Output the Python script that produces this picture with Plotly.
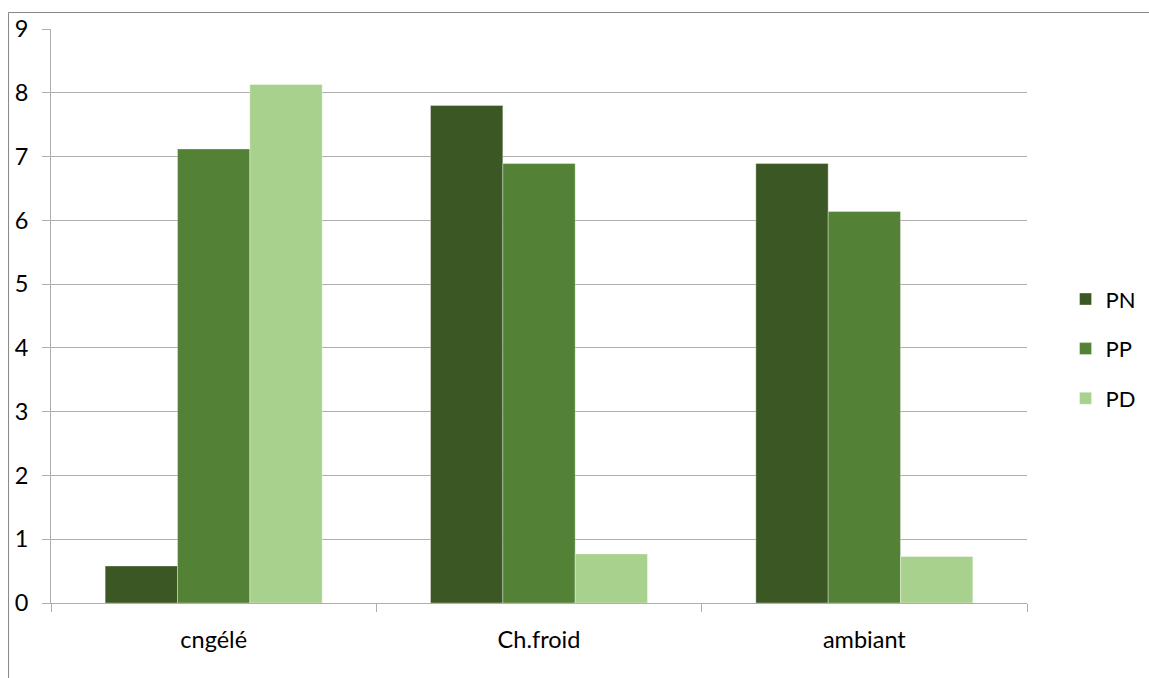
import plotly.graph_objects as go

categories = ["cngélé", "Ch.froid", "ambiant"]
pn_values = [0.58, 7.80, 6.89]
pp_values = [7.12, 6.89, 6.14]
pd_values = [8.13, 0.77, 0.73]
series_names = ["PN", "PP", "PD"]
series_colors = ["#3B5723", "#538135", "#A9D18E"]
y_ticks = list(range(0, 10))

FONT = "Lato"
GRID = "#ADADAD"

fig = go.Figure()
for name, vals, col in zip(series_names, [pn_values, pp_values, pd_values], series_colors):
    fig.add_trace(go.Bar(
        x=categories, y=vals, name=name, legendgroup=name,
        marker=dict(color=col, line=dict(color="rgba(255,255,255,0.35)", width=1)),
    ))

fig.update_layout(
    width=1149, height=678,
    margin=dict(l=51, r=122, t=29, b=75, autoexpand=False),
    paper_bgcolor="white", plot_bgcolor="white",
    barmode="group", bargap=0.333, bargroupgap=0,
    font=dict(family=FONT, size=23, color="black"),
    legend=dict(
        x=1.0395, xanchor="left", y=0.443, yanchor="middle",
        traceorder="grouped", tracegroupgap=18,
        font=dict(family=FONT, size=22, color="black"),
        bgcolor="rgba(0,0,0,0)",
    ),
    xaxis=dict(
        showline=True, linecolor=GRID, linewidth=1,
        ticks="outside", tickson="boundaries", ticklen=8, tickcolor=GRID,
        ticklabelstandoff=16, showgrid=False, zeroline=False,
        tickfont=dict(family=FONT, size=23.5, color="black"),
    ),
    yaxis=dict(
        range=[0, 9], tickvals=y_ticks,
        showline=True, linecolor=GRID, linewidth=1,
        ticks="outside", ticklen=8, tickcolor=GRID,
        ticklabelstandoff=9,
        showgrid=True, gridcolor=GRID, gridwidth=1, zeroline=False,
        tickfont=dict(family=FONT, size=23.5, color="black"),
    ),
    shapes=[dict(
        type="rect", xref="paper", yref="paper",
        x0=-0.0435, x1=1.3, y0=-0.3, y1=1.0287,
        line=dict(color="#878787", width=1), fillcolor="rgba(0,0,0,0)", layer="below",
    )],
)

fig.write_html("out.html")
